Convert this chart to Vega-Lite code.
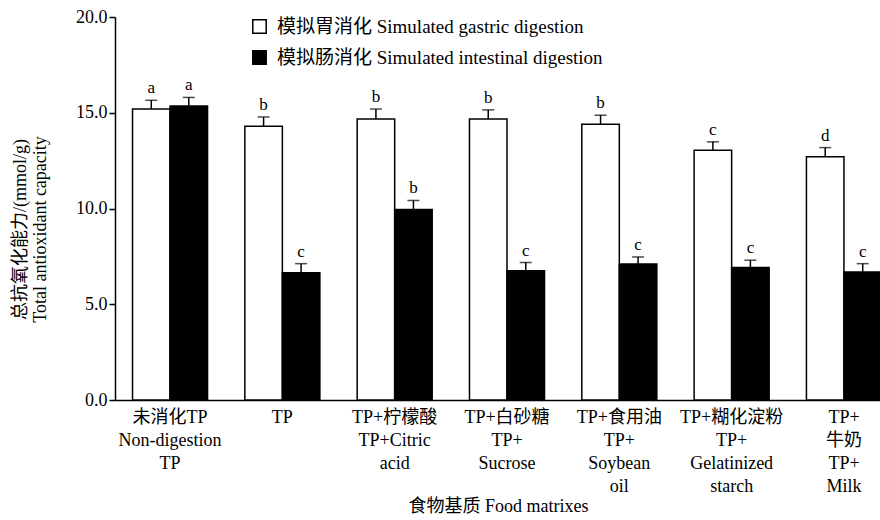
{
  "$schema": "https://vega.github.io/schema/vega-lite/v6.json",
  "autosize": {"type": "none"},
  "padding": {"left": 115, "top": 17, "right": 0, "bottom": 120},
  "width": 765,
  "height": 383,
  "background": "white",
  "config": {
    "font": "Liberation Serif, Noto Sans CJK SC",
    "view": {"stroke": null}
  },
  "data": {
    "values": [
      {"cat": "未消化TP|Non-digestion|TP", "dig": "模拟胃消化 Simulated gastric digestion", "value": 15.2, "hi": 15.65, "letter": "a"},
      {"cat": "未消化TP|Non-digestion|TP", "dig": "模拟肠消化 Simulated intestinal digestion", "value": 15.35, "hi": 15.8, "letter": "a"},
      {"cat": "TP", "dig": "模拟胃消化 Simulated gastric digestion", "value": 14.3, "hi": 14.78, "letter": "b"},
      {"cat": "TP", "dig": "模拟肠消化 Simulated intestinal digestion", "value": 6.65, "hi": 7.12, "letter": "c"},
      {"cat": "TP+柠檬酸|TP+Citric|acid", "dig": "模拟胃消化 Simulated gastric digestion", "value": 14.67, "hi": 15.2, "letter": "b"},
      {"cat": "TP+柠檬酸|TP+Citric|acid", "dig": "模拟肠消化 Simulated intestinal digestion", "value": 9.95, "hi": 10.42, "letter": "b"},
      {"cat": "TP+白砂糖|TP+|Sucrose", "dig": "模拟胃消化 Simulated gastric digestion", "value": 14.67, "hi": 15.15, "letter": "b"},
      {"cat": "TP+白砂糖|TP+|Sucrose", "dig": "模拟肠消化 Simulated intestinal digestion", "value": 6.75, "hi": 7.18, "letter": "c"},
      {"cat": "TP+食用油|TP+|Soybean|oil", "dig": "模拟胃消化 Simulated gastric digestion", "value": 14.4, "hi": 14.87, "letter": "b"},
      {"cat": "TP+食用油|TP+|Soybean|oil", "dig": "模拟肠消化 Simulated intestinal digestion", "value": 7.1, "hi": 7.47, "letter": "c"},
      {"cat": "TP+糊化淀粉|TP+|Gelatinized|starch", "dig": "模拟胃消化 Simulated gastric digestion", "value": 13.04, "hi": 13.48, "letter": "c"},
      {"cat": "TP+糊化淀粉|TP+|Gelatinized|starch", "dig": "模拟肠消化 Simulated intestinal digestion", "value": 6.92, "hi": 7.3, "letter": "c"},
      {"cat": "TP+|牛奶|TP+|Milk", "dig": "模拟胃消化 Simulated gastric digestion", "value": 12.7, "hi": 13.18, "letter": "d"},
      {"cat": "TP+|牛奶|TP+|Milk", "dig": "模拟肠消化 Simulated intestinal digestion", "value": 6.68, "hi": 7.12, "letter": "c"}
    ]
  },
  "encoding": {
    "x": {
      "field": "cat", "type": "nominal", "sort": null,
      "scale": {"range": [0, 784], "paddingInner": 0.332, "paddingOuter": 0.156},
      "axis": {
        "title": "食物基质  Food matrixes",
        "titleFontSize": 18, "titleFontWeight": "normal", "titleColor": "black",
        "titleX": 383, "titleY": 97, "titleBaseline": "top", "titleAnchor": "middle",
        "labelExpr": "split(datum.value, '|')",
        "labelAngle": 0, "labelFontSize": 18, "labelColor": "black",
        "labelLineHeight": 23, "labelBaseline": "top", "labelPadding": 8,
        "labelLimit": 200,
        "ticks": false, "domainColor": "black", "domainWidth": 1.5
      }
    },
    "xOffset": {"field": "dig", "type": "nominal", "sort": null, "scale": {"paddingInner": 0, "paddingOuter": 0}}
  },
  "layer": [
    {
      "mark": {"type": "bar", "stroke": "black", "strokeWidth": 1.5},
      "encoding": {
        "y": {
          "field": "value", "type": "quantitative",
          "scale": {"domain": [0, 20], "nice": false},
          "axis": {
            "values": [0, 5, 10, 15, 20], "format": ".1f",
            "grid": false, "domainColor": "black", "domainWidth": 1.5,
            "tickColor": "black", "tickWidth": 1.5, "tickSize": 6,
            "labelFontSize": 18, "labelColor": "black", "labelPadding": 2,
            "title": ["总抗氧化能力/(mmol/g)", "Total antioxidant capacity"],
            "titleFontSize": 18, "titleFontWeight": "normal", "titleColor": "black",
            "titleLineHeight": 20, "titleX": -86, "titleY": 212, "titleAnchor": "middle"
          }
        },
        "fill": {
          "field": "dig", "type": "nominal", "sort": null,
          "scale": {"range": ["white", "black"]},
          "legend": {
            "title": null, "orient": "none", "legendX": 135, "legendY": 0,
            "symbolType": "square", "symbolSize": 180, "symbolStrokeColor": "black",
            "symbolStrokeWidth": 1.5, "labelFontSize": 19, "labelColor": "black",
            "labelLimit": 600, "rowPadding": 10, "labelOffset": 8
          }
        }
      }
    },
    {
      "mark": {"type": "rule", "stroke": "black", "strokeWidth": 1.5},
      "encoding": {
        "y": {"field": "value", "type": "quantitative"},
        "y2": {"field": "hi"}
      }
    },
    {
      "mark": {"type": "tick", "color": "black", "size": 12, "thickness": 1.5, "orient": "horizontal"},
      "encoding": {
        "y": {"field": "hi", "type": "quantitative"}
      }
    },
    {
      "mark": {"type": "text", "baseline": "bottom", "dy": -3, "fontSize": 17, "color": "black"},
      "encoding": {
        "y": {"field": "hi", "type": "quantitative"},
        "text": {"field": "letter"}
      }
    }
  ]
}
